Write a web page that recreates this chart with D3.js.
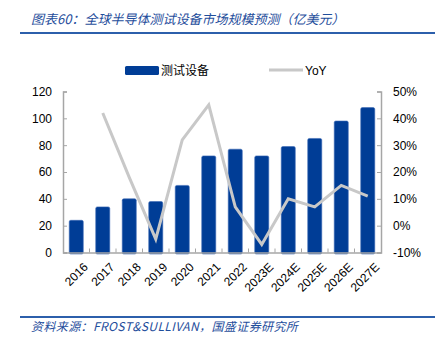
<!DOCTYPE html>
<html><head><meta charset="utf-8">
<script src="https://cdn.jsdelivr.net/npm/d3@7"></script>
<style>body{margin:0;background:#fff}svg{display:block}</style>
</head><body>
<svg id="c" width="441" height="344"></svg>
<script>
const categories = ["2016","2017","2018","2019","2020","2021","2022","2023E","2024E","2025E","2026E","2027E"];
const marketSize = [24,34,40,38,50,72,77,72,79,85,98,108];
const yoy = [null,42,18,-5,32,45,7,-7,10,7,15,11];
const leftTicks = [0,20,40,60,80,100,120];
const rightTicks = [-10,0,10,20,30,40,50];
const title = "图表60：全球半导体测试设备市场规模预测（亿美元）";
const source = "资料来源：FROST&SULLIVAN，国盛证券研究所";

const svg = d3.select("#c");
const m = {l:63, r:381, t:91.5, b:252.5};
const x = d3.scaleBand().domain(categories).range([m.l, m.r]).paddingInner(0.47).paddingOuter(0.235);
const xp = d3.scaleBand().domain(categories).range([m.l, m.r]);
const yL = d3.scaleLinear().domain([0,120]).range([m.b, m.t]);
const yR = d3.scaleLinear().domain([-10,50]).range([m.b, m.t]);
const blue = "#003d96", axisC = "#a6a6a6";
const font = "'Liberation Sans', Arial, sans-serif";
const titleBlue = "#1f4e9c";

// title
svg.append("text").attr("x",31).attr("y",24).attr("fill",titleBlue)
  .attr("font-family","'Noto Sans CJK SC', sans-serif").attr("font-size",13).attr("font-style","italic")
  .text(title);
svg.append("line").attr("x1",20).attr("x2",435).attr("y1",33).attr("y2",33).attr("stroke","#2c5fab").attr("stroke-width",2);
svg.append("line").attr("x1",20).attr("x2",435).attr("y1",317).attr("y2",317).attr("stroke","#2c5fab").attr("stroke-width",2);
svg.append("text").attr("x",31).attr("y",331).attr("fill",titleBlue)
  .attr("font-family","'Noto Sans CJK SC', sans-serif").attr("font-size",12).attr("font-style","italic")
  .attr("letter-spacing",0.4).text(source);

// bars
svg.append("g").selectAll("rect").data(categories).join("rect")
  .attr("x", d=>x(d)).attr("width", x.bandwidth())
  .attr("y", (d,i)=>yL(marketSize[i])).attr("height",(d,i)=>yL(0)-yL(marketSize[i])+1.5)
  .attr("rx",1.5).attr("fill",blue).attr("stroke","#3d6ab5").attr("stroke-width",0.6);

// axes
const gl = svg.append("g").attr("transform",`translate(${m.l},0)`)
  .call(d3.axisLeft(yL).tickValues(leftTicks).tickSize(-4).tickPadding(11));
const gr = svg.append("g").attr("transform",`translate(${m.r},0)`)
  .call(d3.axisRight(yR).tickValues(rightTicks).tickSize(-4).tickPadding(12).tickFormat(d=>d+"%"));
const gx = svg.append("g").attr("transform",`translate(0,${m.b})`)
  .call(d3.axisBottom(xp).tickSize(0).tickFormat(""));
[gl,gr,gx].forEach(g=>{
  g.select(".domain").attr("stroke",axisC).attr("stroke-width",1.5);
  g.selectAll(".tick line").attr("stroke",axisC);
  g.selectAll("text").attr("font-family",font).attr("font-size",12).attr("fill","#000");
});
// x ticks between bands
svg.append("g").selectAll("line").data(categories.slice(1)).join("line")
  .attr("x1",d=>xp(d)).attr("x2",d=>xp(d)).attr("y1",m.b).attr("y2",m.b-4).attr("stroke",axisC);
// x labels
svg.append("g").selectAll("text").data(categories).join("text")
  .attr("transform",d=>`translate(${xp(d)+xp.bandwidth()/2+6},${m.b+9}) rotate(-45)`)
  .attr("text-anchor","end").attr("dy","0.75em").attr("font-family",font).attr("font-size",12).text(d=>d);

// line
const pts = categories.map((c,i)=>({c,v:yoy[i]})).filter(p=>p.v!==null);
svg.append("path").datum(pts)
  .attr("d", d3.line().x(p=>xp(p.c)+xp.bandwidth()/2).y(p=>yR(p.v)))
  .attr("fill","none").attr("stroke","#c8c8c8").attr("stroke-width",3).attr("stroke-linejoin","miter");

// legend
svg.append("rect").attr("x",125).attr("y",66).attr("width",34).attr("height",9).attr("rx",1.5).attr("fill",blue);
svg.append("text").attr("x",161).attr("y",75).attr("font-family","'Noto Sans CJK SC', sans-serif").attr("font-size",12).text("测试设备");
svg.append("line").attr("x1",269).attr("x2",303).attr("y1",70).attr("y2",70).attr("stroke","#c8c8c8").attr("stroke-width",3);
svg.append("text").attr("x",305).attr("y",75).attr("font-family",font).attr("font-size",12).text("YoY");
</script>
</body></html>
